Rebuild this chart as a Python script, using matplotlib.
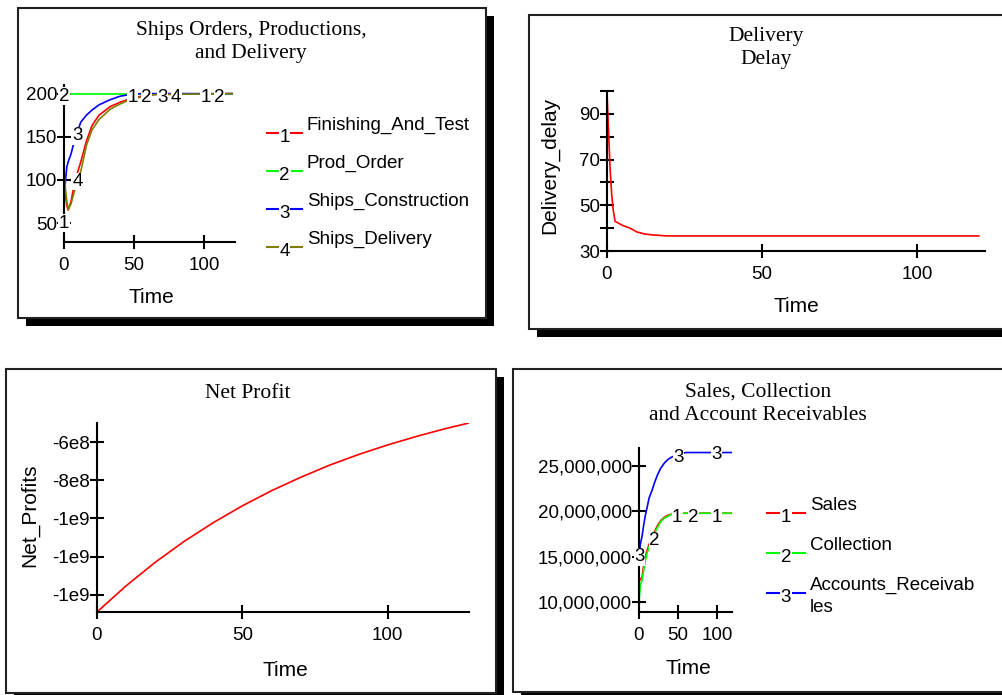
import matplotlib
matplotlib.use("Agg")
import matplotlib.pyplot as plt
from matplotlib.patches import Rectangle
from matplotlib.lines import Line2D

plt.rcParams["font.family"] = ["Liberation Sans", "DejaVu Sans"]

# ------------------------------
# DATA
# ------------------------------

# Ships orders, productions and delivery
t_ships = [0, 1, 2, 3, 5, 8, 12, 16, 20, 25, 33, 40, 47, 55, 65, 120]
finishing_and_test = [100, 84, 70, 65, 75, 100, 121, 145, 163, 175, 185, 190, 194, 197, 199, 200]
prod_order = [200] * len(t_ships)
ships_construction = [68, 98, 115, 121, 130, 149, 167, 175, 181, 187, 193, 197, 199, 200, 200, 200]
ships_delivery = [108, 90, 75, 66, 72, 90, 110, 140, 158, 170, 182, 188, 193, 196, 199, 200]
ships_names = ["Finishing_And_Test", "Prod_Order", "Ships_Construction", "Ships_Delivery"]

# Delivery delay
t_delay = [0, 0.5, 1, 1.5, 2, 2.6, 5, 7.4, 9.7, 12.3, 15, 19.3, 120]
delivery_delay = [99.5, 82, 66, 55, 48, 43, 41.2, 40, 38.3, 37.4, 37.0, 36.6, 36.6]

# Net profit
t_profit = [0, 10, 20, 30, 40, 50, 60, 70, 80, 90, 100, 110, 120, 128]
net_profits = [-1.49e9, -1.353e9, -1.23e9, -1.12e9, -1.022e9, -0.934e9, -0.855e9,
               -0.785e9, -0.721e9, -0.665e9, -0.615e9, -0.57e9, -0.529e9, -0.50e9]
profit_ticks = [-6e8, -8e8, -1e9, -1.2e9, -1.4e9]
profit_tick_labels = ["-6e8", "-8e8", "-1e9", "-1e9", "-1e9"]

# Sales, collection and account receivables
t_sales = [0, 2, 4, 6, 8, 10, 13, 17, 20, 24, 28, 33, 38, 42, 50, 60, 120]
sales = [12.3, 12.5, 12.8, 14.0, 15.0, 15.6, 16.4, 17.2, 17.8, 18.5, 19.0, 19.4, 19.6, 19.7, 19.8, 19.8, 19.8]
collection = [10.0, 12.0, 12.4, 13.5, 14.5, 15.3, 16.1, 17.0, 17.6, 18.3, 18.9, 19.3, 19.5, 19.7, 19.8, 19.8, 19.8]
receivables = [15.2, 16.5, 17.3, 18.5, 19.5, 20.3, 21.5, 22.4, 23.2, 24.1, 24.8, 25.4, 25.8, 26.0, 26.3, 26.5, 26.5]
sales_names = ["Sales", "Collection", "Accounts_Receivab\nles"]
sales_ticks = [10e6, 15e6, 20e6, 25e6]

RED, GREEN, BLUE, OLIVE = "#ff0000", "#00ff00", "#0000ff", "#808000"

# ------------------------------
# FIGURE / HELPERS (pixel coords, top-left origin)
# ------------------------------

W, H = 1002, 695
fig = plt.figure(figsize=(W / 100, H / 100), dpi=100)

TICK = 13.5
LABEL = 15
TITLE = 15.5
SERIF = ["Liberation Serif", "DejaVu Serif"]


def panel(x0, y0, x1, y1, shadow=8):
    fig.add_artist(Rectangle((x0 / W + shadow / W, 1 - (y1 + shadow) / H),
                             (x1 - x0) / W, (y1 - y0) / H,
                             transform=fig.transFigure, fc="black", ec="none", zorder=-3))
    fig.add_artist(Rectangle((x0 / W, 1 - y1 / H), (x1 - x0) / W, (y1 - y0) / H,
                             transform=fig.transFigure, fc="white", ec="#222222",
                             lw=1.5, zorder=-2))


def axes_at(x0, y0, x1, y1):
    ax = fig.add_axes([x0 / W, 1 - y1 / H, (x1 - x0) / W, (y1 - y0) / H])
    ax.set_facecolor("none")
    for s in ["top", "right"]:
        ax.spines[s].set_visible(False)
    for s in ["left", "bottom"]:
        ax.spines[s].set_linewidth(1.5)
    ax.tick_params(axis="both", direction="inout", length=10, width=1.5, labelsize=TICK)
    ax.tick_params(axis="y", pad=0)
    ax.tick_params(axis="x", pad=6)
    return ax


def ftext(x, y, s, **kw):
    fig.text(x / W, 1 - y / H, s, **kw)


def legend(x0, x1, y, num, color, name):
    fig.add_artist(Line2D([x0 / W, x1 / W], [1 - y / H, 1 - y / H], color=color, lw=1.5))
    ftext((x0 + x1) / 2, y + 4, num, ha="center", va="center", fontsize=TICK,
          bbox=dict(fc="white", ec="none", pad=0.5))
    ftext(x1 + 5, y - 16, name, ha="left", va="top", fontsize=TICK, linespacing=1.4)


def mark(ax, x, y, s):
    ax.text(x, y, s, ha="center", va="center", fontsize=TICK, clip_on=False,
            bbox=dict(fc="white", ec="none", pad=0.3))


# ------------------------------
# SHIPS ORDERS, PRODUCTIONS AND DELIVERY
# ------------------------------

panel(18, 8, 486, 318)
ftext(251, 42, "Ships Orders, Productions,\nand Delivery", ha="center", va="center",
      fontsize=TITLE, family=SERIF, linespacing=1.3)
ax1 = axes_at(64, 85, 235, 242)
ax1.plot(t_ships, finishing_and_test, color=RED, lw=1.2)
ax1.plot(t_ships, prod_order, color=GREEN, lw=1.2)
ax1.plot(t_ships, ships_construction, color=BLUE, lw=1.2)
ax1.plot(t_ships, ships_delivery, color=OLIVE, lw=1.2)
ax1.set_xlim(0, 122)
ax1.set_ylim(28, 210)
ax1.set_xticks([0, 50, 100])
ax1.set_yticks([50, 100, 150, 200])
for x, y, s in [(0, 50, "1"), (0, 197, "2"), (10, 151, "3"), (10, 98, "4"),
                (49, 195, "1"), (59, 195, "2"), (70, 195, "3"), (80, 195, "4"),
                (101, 195, "1"), (111, 195, "2")]:
    mark(ax1, x, y, s)
ftext(151, 297, "Time", ha="center", va="center", fontsize=LABEL)
for i, (name, color) in enumerate(zip(ships_names, [RED, GREEN, BLUE, OLIVE])):
    legend(267, 302, 133 + 38 * i, str(i + 1), color, name)

# ------------------------------
# DELIVERY DELAY
# ------------------------------

panel(529, 15, 1020, 329)
ftext(766, 48, "Delivery\nDelay", ha="center", va="center", fontsize=TITLE,
      family=SERIF, linespacing=1.3)
ax2 = axes_at(607, 91, 985, 251)
ax2.plot(t_delay, delivery_delay, color=RED, lw=1.2)
ax2.set_xlim(0, 122)
ax2.set_ylim(30, 100)
ax2.set_xticks([0, 50, 100])
ax2.set_yticks(range(30, 101, 10))
ax2.set_yticklabels([str(v) if v in (30, 50, 70, 90) else "" for v in range(30, 101, 10)])
ftext(796, 307, "Time", ha="center", va="center", fontsize=LABEL)
ftext(550, 165, "Delivery_delay", ha="center", va="center", fontsize=LABEL, rotation=90)

# ------------------------------
# NET PROFIT
# ------------------------------

panel(6, 369, 496, 693)
ftext(248, 393, "Net Profit", ha="center", va="center", fontsize=TITLE, family=SERIF)
ax3 = axes_at(97, 423, 469, 612)
ax3.plot(t_profit, net_profits, color=RED, lw=1.2)
ax3.set_xlim(0, 128)
ax3.set_ylim(-1.49e9, -5.0e8)
ax3.set_xticks([0, 50, 100])
ax3.set_yticks(profit_ticks)
ax3.set_yticklabels(profit_tick_labels)
ftext(285, 670, "Time", ha="center", va="center", fontsize=LABEL)
ftext(30, 515, "Net_Profits", ha="center", va="center", fontsize=LABEL, rotation=90)

# ------------------------------
# SALES, COLLECTION AND ACCOUNT RECEIVABLES
# ------------------------------

panel(513, 369, 1020, 692)
ftext(758, 404, "Sales, Collection\nand Account Receivables", ha="center", va="center",
      fontsize=TITLE, family=SERIF, linespacing=1.3)
ax4 = axes_at(639, 448, 732, 612)
ax4.plot(t_sales, [v * 1e6 for v in sales], color=RED, lw=1.2)
ax4.plot(t_sales, [v * 1e6 for v in collection], color=GREEN, lw=1.2)
ax4.plot(t_sales, [v * 1e6 for v in receivables], color=BLUE, lw=1.2)
ax4.set_xlim(0, 119)
ax4.set_ylim(8.9e6, 27e6)
ax4.set_xticks([0, 50, 100])
ax4.set_yticks(sales_ticks)
ax4.set_yticklabels(["{:,.0f}".format(v) for v in sales_ticks])
for x, y, s in [(50, 25.9e6, "3"), (99, 26.3e6, "3"), (49, 19.3e6, "1"),
                (70, 19.3e6, "2"), (99, 19.3e6, "1"), (20, 16.8e6, "2"), (1, 15.0e6, "3")]:
    mark(ax4, x, y, s)
ftext(688, 669, "Time", ha="center", va="center", fontsize=LABEL)
for i, (name, color) in enumerate(zip(sales_names, [RED, GREEN, BLUE])):
    legend(767, 805, 513 + 40 * i, str(i + 1), color, name)

plt.savefig("out.png", dpi=100)
